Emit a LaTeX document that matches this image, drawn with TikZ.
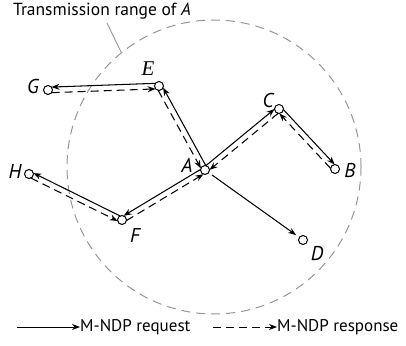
\documentclass[tikz,border=0pt]{standalone}
\usepackage{fontspec}
\setmainfont{PT Sans}
\newfontfamily\serifit{Liberation Serif}
\usetikzlibrary{arrows.meta,calc}
\definecolor{rangegray}{RGB}{150,150,150}

% two opposite links drawn side by side: request #1 -> #2, response #2 -> #1
\newcommand\duplex[4]{%
  \draw[req]  ($(#1)!2.8pt!#3:(#2)$) -- ($(#2)!2.8pt!#4:(#1)$);
  \draw[resp] ($(#2)!2.8pt!#3:(#1)$) -- ($(#1)!2.8pt!#4:(#2)$);
}

\begin{document}
\begin{tikzpicture}[x=1pt,y=1pt,
  station/.style={circle,draw=black,fill=white,line width=1pt,inner sep=0pt,minimum size=9pt},
  tag/.style={font=\fontsize{20}{20}\selectfont\itshape,inner sep=0pt},
  req/.style={draw=black,line width=1.05pt,-{Stealth[length=8pt,width=6pt]},shorten >=3.5pt,shorten <=3.5pt},
  resp/.style={req,dash pattern=on 8pt off 5pt},
  legtext/.style={font=\fontsize{17}{17}\selectfont,inner sep=0pt,anchor=west}
]
\useasboundingbox (0,0) rectangle (406,345);

% transmission range
\node[circle,draw=rangegray,line width=1pt,dash pattern=on 9pt off 6pt,
      minimum size=294pt,inner sep=0pt] (range) at (214,178) {};
\node[font=\fontsize{17.5}{17.5}\selectfont,inner sep=0pt] (title) at (102,334)
  {Transmission range of \textit{A}};
\coordinate (lead) at (107,322);
\draw[rangegray,line width=0.9pt] (lead) -- (range.129);

% stations
\node[station] (A) at (205,175) {};
\node[station] (E) at (159,259) {};
\node[station] (G) at (48,255) {};
\node[station] (C) at (279,236) {};
\node[station] (B) at (335,176) {};
\node[station] (H) at (29,171) {};
\node[station] (F) at (122,125) {};
\node[station] (D) at (303,105) {};

% station names
\node[tag] (tA) at (187,180) {A};
\node[tag,font=\fontsize{21}{21}\selectfont\serifit\itshape] (tE) at (148,276) {E};
\node[tag] (tG) at (33,258) {G};
\node[tag] (tC) at (268,244) {C};
\node[tag] (tB) at (350,174) {B};
\node[tag] (tH) at (15,173) {H};
\node[tag] (tF) at (135,109) {F};
\node[tag] (tD) at (317,91) {D};

% requests and responses
\duplex{E}{G}{-90}{90}
\duplex{A}{E}{-90}{90}
\duplex{A}{C}{90}{-90}
\duplex{C}{B}{90}{-90}
\duplex{A}{F}{-90}{90}
\duplex{F}{H}{-90}{90}
\draw[req] (A) -- (D);

% legend
\coordinate (l1a) at (17,18);
\coordinate (l1b) at (80,18);
\coordinate (l2a) at (213,18);
\coordinate (l2b) at (277,18);
\draw[req,line width=0.9pt,shorten <=0pt,shorten >=0pt] (l1a) -- (l1b);
\node[legtext] (reqtxt) at (l1b) {M-NDP request};
\draw[resp,line width=0.9pt,shorten <=0pt,shorten >=0pt] (l2a) -- (l2b);
\node[legtext] (resptxt) at (l2b) {M-NDP response};
\end{tikzpicture}
\end{document}
